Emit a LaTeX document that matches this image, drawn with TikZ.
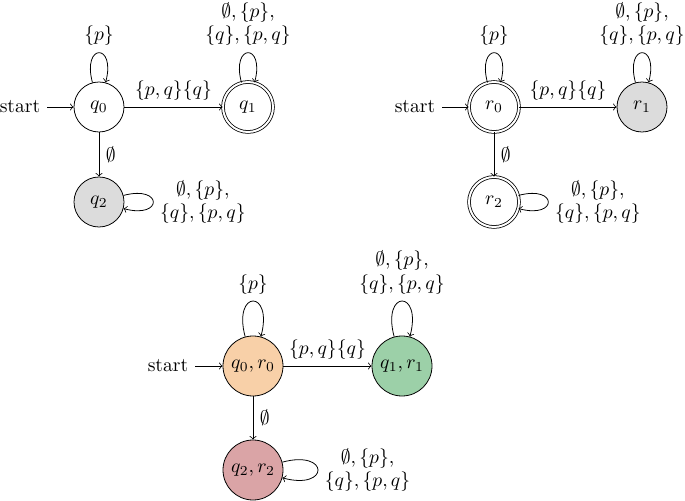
\documentclass[tikz,border=0pt]{standalone}
\usetikzlibrary{automata}
\definecolor{stgray}{RGB}{220,220,220}
\definecolor{storange}{RGB}{248,208,168}
\definecolor{stgreen}{RGB}{156,208,168}
\definecolor{stpink}{RGB}{218,164,166}
\begin{document}
\begin{tikzpicture}[x=0.51pt,y=-0.51pt,
  st/.style={circle,draw,minimum size=25.5pt,inner sep=0pt},
  bigst/.style={circle,draw,minimum size=30.6pt,inner sep=0pt},
  acc/.style={double,double distance=1pt},
  tr/.style={->},
  lbl/.style={align=center}]
\useasboundingbox (0,0) rectangle (685,501);
% ---------- top left automaton ----------
\node[st] (q0) at (99,107) {$q_0$};
\node[st,acc] (q1) at (248,107) {$q_1$};
\node[st,fill=stgray] (q2) at (99,202) {$q_2$};
\node (s1) at (20,107) {start};
\draw[tr] (s1) -- (q0);
\draw[tr] (q0) -- node[above] (l1) {$\{p,q\}\{q\}$} (q1);
\draw[tr] (q0) -- node[right] (l2) {$\emptyset$} (q2);
\draw[tr] (q0) to[loop above] node[above] (l3) {$\{p\}$} (q0);
\draw[tr] (q1) to[loop above] node[above,lbl] (l4) {$\emptyset,\{p\},$\\$\{q\},\{p,q\}$} (q1);
\draw[tr] (q2) to[loop right] node[right,lbl] (l5) {$\emptyset,\{p\},$\\$\{q\},\{p,q\}$} (q2);
% ---------- top right automaton ----------
\node[st,acc] (r0) at (494,107) {$r_0$};
\node[st,fill=stgray] (r1) at (642,107) {$r_1$};
\node[st,acc] (r2) at (494,202) {$r_2$};
\node (s2) at (415,107) {start};
\draw[tr] (s2) -- (r0);
\draw[tr] (r0) -- node[above] (m1) {$\{p,q\}\{q\}$} (r1);
\draw[tr] (r0) -- node[right] (m2) {$\emptyset$} (r2);
\draw[tr] (r0) to[loop above] node[above] (m3) {$\{p\}$} (r0);
\draw[tr] (r1) to[loop above] node[above,lbl] (m4) {$\emptyset,\{p\},$\\$\{q\},\{p,q\}$} (r1);
\draw[tr] (r2) to[loop right] node[right,lbl] (m5) {$\emptyset,\{p\},$\\$\{q\},\{p,q\}$} (r2);
% ---------- product automaton ----------
\node[bigst,fill=storange] (p0) at (253,366) {$q_0,r_0$};
\node[bigst,fill=stgreen] (p1) at (402,366) {$q_1,r_1$};
\node[bigst,fill=stpink] (p2) at (253,470) {$q_2,r_2$};
\node (s3) at (168,366) {start};
\draw[tr] (s3) -- (p0);
\draw[tr] (p0) -- node[above] (n1) {$\{p,q\}\{q\}$} (p1);
\draw[tr] (p0) -- node[right] (n2) {$\emptyset$} (p2);
\draw[tr] (p0) to[loop above] node[above] (n3) {$\{p\}$} (p0);
\draw[tr] (p1) to[loop above] node[above,lbl] (n4) {$\emptyset,\{p\},$\\$\{q\},\{p,q\}$} (p1);
\draw[tr] (p2) to[loop right] node[right,lbl] (n5) {$\emptyset,\{p\},$\\$\{q\},\{p,q\}$} (p2);
\end{tikzpicture}
\end{document}
